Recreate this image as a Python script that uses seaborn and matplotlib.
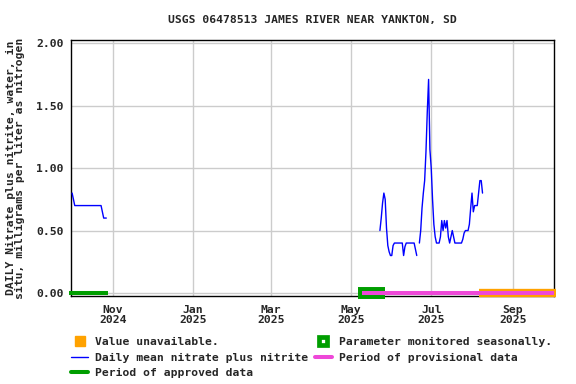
import matplotlib
matplotlib.use("Agg")
import matplotlib.dates as mdates
import matplotlib.pyplot as plt
import numpy as np
import pandas as pd
import seaborn as sns
from matplotlib.lines import Line2D

TITLE = "USGS 06478513 JAMES RIVER NEAR YANKTON, SD"
YLABEL = "DAILY Nitrate plus nitrite, water, in\nsitu, milligrams per liter as nitrogen"

# daily mean values, fall 2024 (starts Oct 1)
fall_start = "2024-10-01"
fall_values = [0.80, 0.75, 0.70, 0.70, 0.70, 0.70, 0.70, 0.70, 0.70, 0.70,
               0.70, 0.70, 0.70, 0.70, 0.70, 0.70, 0.70, 0.70, 0.70, 0.70,
               0.70, 0.70, 0.70, 0.65, 0.60, 0.60, 0.60]

# daily mean values, summer 2025 (starts May 23)
summer_start = "2025-05-23"
summer_values = [0.50, 0.60, 0.72, 0.80, 0.75, 0.52, 0.38, 0.33, 0.30, 0.30,
                 0.38, 0.40, 0.40, 0.40, 0.40, 0.40, 0.40, 0.40, 0.30, 0.37,
                 0.40, 0.40, 0.40, 0.40, 0.40, 0.40, 0.40, 0.35, 0.30, np.nan,
                 0.40, 0.50, 0.68, 0.80, 0.90, 1.13, 1.45, 1.71, 1.15, 1.00,
                 0.75, 0.55, 0.45, 0.40, 0.40, 0.40, 0.45, 0.58, 0.50, 0.58,
                 0.52, 0.58, 0.45, 0.40, 0.45, 0.50, 0.45, 0.40, 0.40, 0.40,
                 0.40, 0.40, 0.40, 0.43, 0.48, 0.50, 0.50, 0.50, 0.55, 0.68,
                 0.80, 0.65, 0.70, 0.70, 0.70, 0.80, 0.90, 0.90, 0.80]

# status periods (start, end)
approved_period = ("2024-09-29", "2024-10-28")
seasonal_period = ("2025-05-06", "2025-05-27")
provisional_period = ("2025-05-09", "2025-10-02")
unavailable_period = ("2025-08-06", "2025-10-04")

GREEN = "#009e00"
PINK = "#ee48d8"
ORANGE = "#ffa200"
BLUE = "#0000ff"

# build a long frame; each unbroken run of values is its own unit
rows = []
seg = 0
for start, vals in [(fall_start, fall_values), (summer_start, summer_values)]:
    dates = pd.date_range(start, periods=len(vals), freq="D")
    seg += 1
    for d, v in zip(dates, vals):
        if np.isnan(v):
            seg += 1
            continue
        rows.append((d, v, seg))
df = pd.DataFrame(rows, columns=["date", "value", "seg"])

sns.set_style("white")
plt.rcParams["font.family"] = ["DejaVu Sans Mono"]
plt.rcParams["font.weight"] = "bold"
plt.rcParams["axes.titleweight"] = "bold"
plt.rcParams["axes.labelweight"] = "bold"
plt.rcParams["font.size"] = 8.2

fig = plt.figure(figsize=(5.76, 3.84), dpi=100)
ax = fig.add_axes([0.1233, 0.2292, 0.8385, 0.6667])

sns.lineplot(data=df, x="date", y="value", units="seg", estimator=None,
             color=BLUE, lw=1.0, ax=ax, zorder=5)


def period_line(period, color, lw, z):
    xs = pd.to_datetime(list(period))
    ax.plot(xs, [0, 0], color=color, lw=lw, solid_capstyle="butt",
            zorder=z, clip_on=False)


period_line(unavailable_period, ORANGE, 6.0, 6)
period_line(seasonal_period, GREEN, 8.6, 7)
period_line(provisional_period, PINK, 2.9, 8)
period_line(approved_period, GREEN, 2.9, 8)

ax.set_xlim(pd.Timestamp("2024-09-30 04:00"), pd.Timestamp("2025-10-02 08:00"))
ax.set_ylim(-0.024, 2.026)
ax.set_yticks([0, 0.5, 1.0, 1.5, 2.0])
ax.set_yticklabels(["0.00", "0.50", "1.00", "1.50", "2.00"])
ax.xaxis.set_major_locator(mdates.MonthLocator(bymonth=[1, 3, 5, 7, 9, 11]))
ax.xaxis.set_major_formatter(mdates.DateFormatter("%b\n%Y"))
ax.grid(True, color="#cccccc", lw=1.0)
ax.set_axisbelow(True)
for s in ax.spines.values():
    s.set_color("black")
    s.set_linewidth(1.0)
ax.tick_params(axis="y", direction="in", length=3, pad=5.5, labelsize=8.2)
ax.tick_params(axis="x", length=0, pad=6.5, labelsize=8.2)
for lab in ax.get_xticklabels():
    lab.set_linespacing(0.95)

ax.set_xlabel("")
ax.set_ylabel(YLABEL, fontsize=8.2, linespacing=0.85)
ax.yaxis.set_label_coords(-0.095, 0.5)
ax.set_title(TITLE, fontsize=8.2, pad=12)

handles = [
    Line2D([], [], ls="none", marker="s", ms=6.5, color=ORANGE),
    Line2D([], [], color=BLUE, lw=1.0),
    Line2D([], [], color=GREEN, lw=2.9),
    Line2D([], [], ls="none", marker="s", ms=5.6, mfc="white", mec=GREEN, mew=3.4),
    Line2D([], [], color=PINK, lw=2.9),
]
labels = [
    "Value unavailable.",
    "Daily mean nitrate plus nitrite",
    "Period of approved data",
    "Parameter monitored seasonally.",
    "Period of provisional data",
]
fig.legend(handles, labels, loc="upper left", bbox_to_anchor=(0.1233, 0.122),
           bbox_transform=fig.transFigure, ncol=2, frameon=False, borderpad=0,
           borderaxespad=0, handlelength=1.5, handletextpad=0.6,
           columnspacing=0.6, labelspacing=0.48, fontsize=8.2)

fig.savefig("out.png", dpi=100)
